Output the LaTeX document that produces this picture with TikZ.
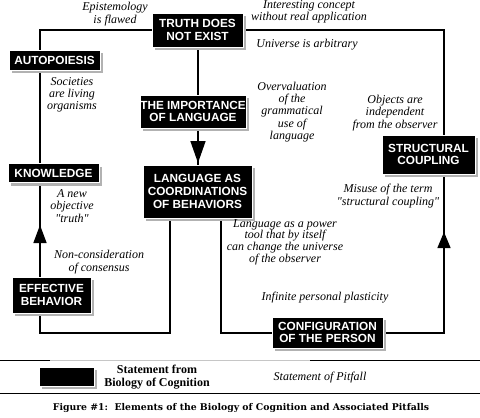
\documentclass[tikz,border=0pt]{standalone}
\usepackage{fontspec}
\setmainfont{Liberation Serif}[Ligatures=TeXOff]
\newfontfamily\boxfont{Liberation Sans}
\newfontfamily\capfont{DejaVu Serif}
\usetikzlibrary{shadows,arrows.meta,backgrounds}
\begin{document}
\begin{tikzpicture}[x=1pt,y=-1pt,
  stmt/.style={fill=black, draw=white, line width=0.8pt, text=white, align=center, inner sep=0pt,
    font=\boxfont\bfseries\fontsize{11.8}{12.6}\selectfont,
    drop shadow={shadow xshift=3pt, shadow yshift=-3pt, fill=gray!60, opacity=1}},
  pit/.style={align=center, inner sep=0pt, font=\itshape\fontsize{12}{12.3}\selectfont},
  conn/.style={line width=1.4pt},
  tipa/.style={-{Triangle[length=22pt,width=15pt]}},
  tipk/.style={-{Triangle[length=18pt,width=13pt]}},
  tips/.style={-{Triangle[length=16pt,width=13pt]}}]
\useasboundingbox (0,0) rectangle (480,418);
% coordinates of line routes
\coordinate (xl) at (40,0);
\coordinate (xr) at (444,0);
\coordinate (xa) at (170,0);
\coordinate (xb) at (221,0);
\coordinate (xt) at (198,0);
\coordinate (yt) at (0,30);
\coordinate (yb) at (0,333);
\coordinate (la) at (198,163);
\coordinate (ka) at (40,225);
\coordinate (sa) at (444,232);
% statement boxes
\node[stmt, minimum width=91pt, minimum height=34pt] (truth) at (197.5,30) {TRUTH DOES\\NOT EXIST};
\node[stmt, minimum width=91pt, minimum height=20pt] (auto) at (54.5,60) {AUTOPOIESIS};
\node[stmt, minimum width=106pt, minimum height=33pt] (imp) at (193,111.5) {THE IMPORTANCE\\OF LANGUAGE};
\node[stmt, minimum width=91pt, minimum height=19pt] (know) at (53.5,173) {KNOWLEDGE};
\node[stmt, minimum width=109pt, minimum height=53pt] (lang) at (197.5,191.5) {LANGUAGE AS\\COORDINATIONS\\OF BEHAVIORS};
\node[stmt, minimum width=93pt, minimum height=39pt] (struct) at (428.5,154.5) {STRUCTURAL\\COUPLING};
\node[stmt, minimum width=79pt, minimum height=36pt] (eff) at (51.5,295) {EFFECTIVE\\BEHAVIOR};
\node[stmt, minimum width=111pt, minimum height=31pt] (conf) at (327.5,332.5) {CONFIGURATION\\OF THE PERSON};
\node[stmt, minimum width=55pt, minimum height=19pt] (leg) at (66.5,376.5) {};

\begin{scope}[on background layer]
\fill[white] (0,0) rectangle (480,418);
\draw[conn] (auto.north -| xl) |- (truth.west |- yt);
\draw[conn] (truth.east |- yt) -| (struct.north -| xr);
\draw[conn] (truth.south -| xt) -- (imp.north -| xt);
\draw[conn] (imp.south -| xt) -- (lang.north -| xt);
\draw[conn,tipa] (imp.south -| xt) -- (la);
\draw[conn] (auto.south -| xl) -- (know.north -| xl);
\draw[conn] (know.south -| xl) -- (eff.north -| xl);
\draw[conn,tipk] (eff.north -| xl) -- (ka);
\draw[conn] (eff.south -| xl) |- (xa |- yb) -- (lang.south -| xa);
\draw[conn] (lang.south -| xb) |- (conf.west |- yb);
\draw[conn] (conf.east |- yb) -| (struct.south -| xr);
\draw[conn,tips] (xr |- yb) -- (sa);
\end{scope}

% pitfalls
\node[pit] (p1) at (115,14) {Epistemology\\is flawed};
\node[pit] (p2) at (309,12) {Interesting concept\\without real application};
\node[pit] (p3) at (307,45) {Universe is arbitrary};
\node[pit] (p4) at (72,95) {Societies\\are living\\organisms};
\node[pit] (p5) at (292,112) {Overvaluation\\of the\\grammatical\\use of\\language};
\node[pit] (p6) at (395,113) {Objects are\\independent\\from the observer};
\node[pit] (p7) at (72,206) {A new\\objective\\"truth"};
\node[pit] (p8) at (99,262) {Non-consideration\\of consensus};
\node[pit] (p9) at (388,196) {Misuse of the term\\"structural coupling"};
\node[pit, font=\itshape\fontsize{12}{11.6}\selectfont] (p10) at (285,242) {Language as a power\\tool that by itself\\can change the universe\\of the observer};
\node[pit] (p11) at (325,298) {Infinite personal plasticity};

% legend
\draw[line width=1pt] (0,360) -- (50,360);
\draw[line width=1pt, gray!45] (50,360) -- (310,360);
\draw[line width=1pt] (310,360) -- (480,360);
\draw[line width=1pt] (0,393) -- (480,393);
\node[align=center, inner sep=0pt, font=\bfseries\fontsize{12}{12.4}\selectfont] (lt1) at (157,377) {Statement from\\Biology of Cognition};
\node[pit] (lt2) at (320,378) {Statement of Pitfall};
\node[inner sep=0pt, font=\capfont\bfseries\fontsize{9.3}{11}\selectfont] (cap) at (241,408) {Figure \#1:\ \ Elements of the Biology of Cognition and Associated Pitfalls};
\end{tikzpicture}
\end{document}
